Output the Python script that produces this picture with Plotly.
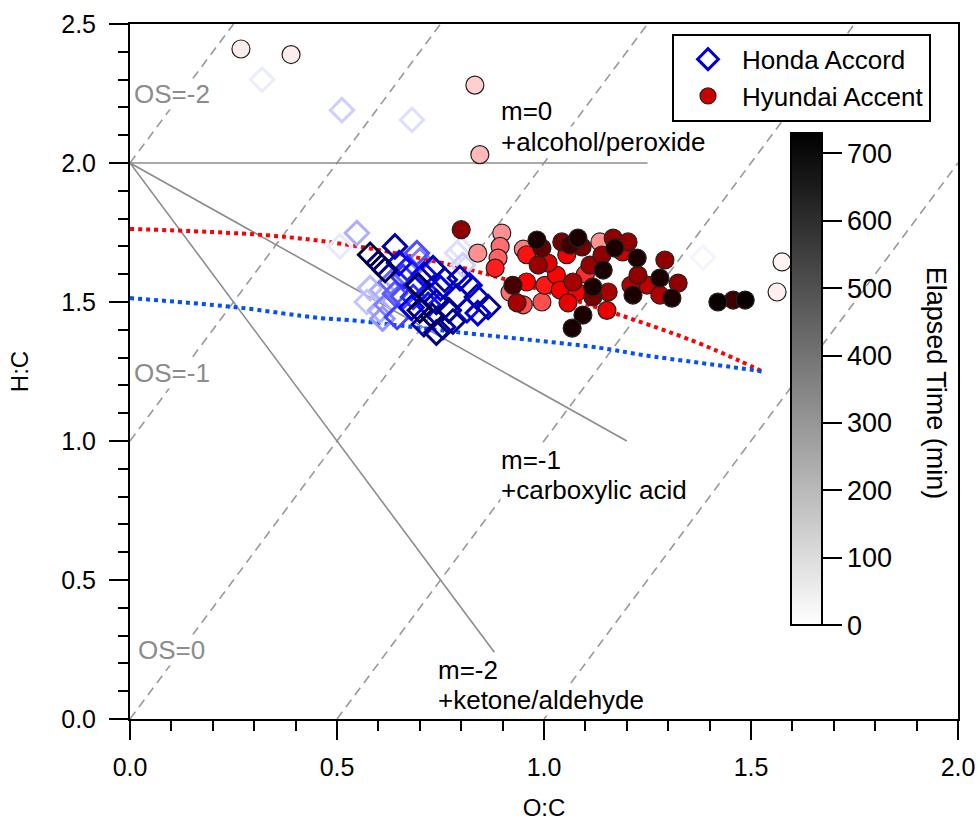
import plotly.graph_objects as go

# ---------------- data ----------------
# Honda Accord (O:C, H:C, elapsed time in min)
honda_oc = [0.319, 0.512, 0.681, 1.384, 0.80, 0.507, 0.548,
            0.58, 0.64, 0.616, 0.693, 0.609, 0.572, 0.696, 0.732, 0.66, 0.79,
            0.804, 0.797, 0.70, 0.74, 0.645, 0.756, 0.838, 0.865, 0.814, 0.684,
            0.604, 0.63, 0.67, 0.71, 0.72, 0.68, 0.75, 0.77, 0.79, 0.73, 0.66,
            0.62, 0.71, 0.76, 0.82, 0.70, 0.65, 0.78, 0.60, 0.74, 0.84, 0.69,
            0.72, 0.64, 0.58, 0.61]
honda_hc = [2.30, 2.19, 2.155, 1.66, 1.69, 1.70, 1.748,
            1.67, 1.70, 1.615, 1.676, 1.543, 1.50, 1.56, 1.622, 1.59, 1.676,
            1.633, 1.586, 1.47, 1.50, 1.446, 1.41, 1.518, 1.482, 1.471, 1.518,
            1.47, 1.57, 1.62, 1.60, 1.53, 1.48, 1.55, 1.47, 1.52, 1.45, 1.52,
            1.49, 1.42, 1.58, 1.56, 1.65, 1.64, 1.43, 1.64, 1.39, 1.46, 1.56,
            1.49, 1.53, 1.55, 1.44]
honda_t = [20, 80, 50, 5, 40, 30, 150,
           700, 620, 700, 350, 150, 100, 700, 600, 400, 50,
           80, 580, 700, 620, 380, 620, 600, 620, 500, 420,
           150, 300, 450, 500, 450, 550, 520, 650, 580, 680, 350,
           250, 600, 600, 550, 250, 500, 640, 650, 660, 560, 450,
           480, 320, 120, 200]

# Hyundai Accent (O:C, H:C, elapsed time in min)
hyundai_oc = [0.268, 0.389, 0.833, 0.845, 1.575, 1.563,
              0.80, 0.84, 0.898, 0.894, 0.889, 0.882, 0.95, 0.958, 0.983, 0.995,
              0.986, 0.958, 0.925, 0.918, 0.935, 0.95, 1.002, 0.995, 1.03, 1.039,
              1.043, 1.063, 1.055, 1.058, 1.07, 1.08, 1.082, 1.092, 1.094, 1.068,
              1.111, 1.118, 1.118, 1.135, 1.14, 1.143, 1.152, 1.155, 1.167, 1.171,
              1.203, 1.225, 1.292, 1.227, 1.28, 1.324, 1.249, 1.215, 1.28, 1.309,
              1.42, 1.457, 1.486, 1.01, 1.10, 1.19, 1.21]
hyundai_hc = [2.41, 2.39, 2.28, 2.03, 1.644, 1.536,
              1.76, 1.676, 1.748, 1.70, 1.658, 1.622, 1.69, 1.67, 1.723, 1.694,
              1.633, 1.572, 1.56, 1.535, 1.497, 1.49, 1.56, 1.50, 1.597, 1.543,
              1.716, 1.705, 1.67, 1.497, 1.572, 1.536, 1.73, 1.698, 1.453, 1.406,
              1.633, 1.554, 1.518, 1.716, 1.669, 1.615, 1.47, 1.536, 1.73, 1.694,
              1.716, 1.658, 1.651, 1.597, 1.586, 1.568, 1.561, 1.525, 1.525, 1.514,
              1.50, 1.507, 1.507, 1.64, 1.60, 1.68, 1.56]
hyundai_t = [15, 15, 60, 90, 5, 10,
             560, 150, 150, 200, 220, 320, 180, 340, 700, 620,
             540, 360, 650, 200, 520, 250, 330, 250, 360, 380,
             600, 660, 380, 400, 520, 380, 700, 600, 700, 700,
             550, 700, 600, 150, 560, 700, 400, 520, 560, 700,
             560, 700, 560, 560, 700, 560, 480, 700, 500, 700,
             720, 660, 720, 420, 300, 450, 500]

# fitted curves
red_fit_oc = [0.0, 0.33, 0.53, 0.74, 0.85, 1.0, 1.18, 1.36, 1.47, 1.53]
red_fit_hc = [1.763, 1.74, 1.705, 1.645, 1.605, 1.54, 1.455, 1.36, 1.29, 1.248]
blue_fit_oc = [0.0, 0.25, 0.46, 0.53, 0.80, 1.135, 1.24, 1.505, 1.53]
blue_fit_hc = [1.514, 1.482, 1.442, 1.435, 1.39, 1.335, 1.309, 1.255, 1.248]

# oxidation state reference lines: H:C = 2*O:C - OS
os_values = [-2, -1, 0, 1, 2]
# slope lines from (0, 2)
m_lines = [("m=0", 1.25, 2.0), ("m=-1", 1.2, 1.0), ("m=-2", 0.88, 0.24)]

time_max = 730
FONT = "Arial, Liberation Sans, sans-serif"

honda_scale = [[0, "rgb(246,246,255)"], [0.7, "rgb(0,0,255)"],
               [0.92, "rgb(0,0,120)"], [1, "rgb(0,0,20)"]]
hyundai_scale = [[0, "rgb(255,246,246)"], [0.5, "rgb(255,0,0)"],
                 [0.8, "rgb(130,0,0)"], [1, "rgb(0,0,0)"]]

fig = go.Figure()

# OS dashed lines
for os_v in os_values:
    x0 = max(0.0, os_v / 2)
    x1 = min(2.0, (2.5 + os_v) / 2)
    fig.add_trace(go.Scatter(x=[x0, x1], y=[2 * x0 - os_v, 2 * x1 - os_v],
                             mode="lines", showlegend=False, hoverinfo="skip",
                             line=dict(color="#999999", width=1.6, dash="9px,6px")))

# slope lines
for name, xe, ye in m_lines:
    fig.add_trace(go.Scatter(x=[0, xe], y=[2.0, ye], mode="lines", showlegend=False,
                             hoverinfo="skip",
                             line=dict(color="#8c8c8c", width=1.6)))

# fits
fig.add_trace(go.Scatter(x=red_fit_oc, y=red_fit_hc, mode="lines", showlegend=False,
                         line=dict(color="#ff0000", width=4, dash="4px,4px", shape="spline")))
fig.add_trace(go.Scatter(x=blue_fit_oc, y=blue_fit_hc, mode="lines", showlegend=False,
                         line=dict(color="#0050ff", width=4, dash="4px,4px", shape="spline")))

# Honda (open diamonds)
order_h = sorted(range(len(honda_t)), key=lambda i: honda_t[i])
fig.add_trace(go.Scatter(
    x=[honda_oc[i] for i in order_h], y=[honda_hc[i] for i in order_h],
    mode="markers", showlegend=False,
    marker=dict(symbol="diamond-open", size=18,
                color=[honda_t[i] for i in order_h], colorscale=honda_scale,
                cmin=0, cmax=time_max, line=dict(width=3))))

# Hyundai (circles)
order_y = sorted(range(len(hyundai_t)), key=lambda i: hyundai_t[i])
fig.add_trace(go.Scatter(
    x=[hyundai_oc[i] for i in order_y], y=[hyundai_hc[i] for i in order_y],
    mode="markers", showlegend=False,
    marker=dict(symbol="circle", size=18,
                color=[hyundai_t[i] for i in order_y], colorscale=hyundai_scale,
                cmin=0, cmax=time_max, line=dict(color="#222222", width=1.2))))

# legend entries
fig.add_trace(go.Scatter(x=[None], y=[None], mode="markers", name="Honda Accord",
                         marker=dict(symbol="diamond-open", size=19, color="#0000dd",
                                     line=dict(width=3))))
fig.add_trace(go.Scatter(x=[None], y=[None], mode="markers", name="Hyundai Accent",
                         marker=dict(symbol="circle", size=19, color="#cc0000",
                                     line=dict(color="#222222", width=1.2))))

# colorbar (grayscale elapsed time)
cbar = dict(x=0.7983, xanchor="left", y=0.489, yanchor="middle",
            len=492, lenmode="pixels", thickness=31,
            outlinewidth=2, outlinecolor="black",
            ticks="outside", ticklen=19, tickwidth=2,
            tickcolor="black", tickvals=[0, 100, 200, 300, 400, 500, 600, 700],
            tickfont=dict(size=27, color="black", family=FONT),
            bgcolor="rgba(0,0,0,0)", xpad=0, ypad=0)
fig.add_trace(go.Scatter(
    x=[None], y=[None], mode="markers", showlegend=False,
    marker=dict(color=[0], cmin=0, cmax=time_max, showscale=True,
                colorscale=[[0, "white"], [1, "black"]], colorbar=cbar)))

# colorbar title
fig.add_annotation(xref="paper", yref="paper", x=0.973, y=0.483,
                   text="Elapsed Time (min)", textangle=90, showarrow=False,
                   xanchor="center", yanchor="middle",
                   font=dict(size=27, color="black", family=FONT))

# annotations (one per text line)
texts = [
    ("m=0", 0.894, 2.187, "black"),
    ("+alcohol/peroxide", 0.894, 2.075, "black"),
    ("m=-1", 0.894, 0.932, "black"),
    ("+carboxylic acid", 0.894, 0.824, "black"),
    ("m=-2", 0.742, 0.176, "black"),
    ("+ketone/aldehyde", 0.742, 0.068, "black"),
    ("OS=-2", 0.007, 2.248, "#8c8c8c"),
    ("OS=-1", 0.007, 1.245, "#8c8c8c"),
    ("OS=0", 0.017, 0.248, "#8c8c8c"),
]
for t, x, y, c in texts:
    fig.add_annotation(x=x, y=y, text=t, showarrow=False, xanchor="left",
                       yanchor="middle", align="left", bgcolor="white", borderpad=0,
                       font=dict(size=26, color=c, family=FONT))

axis_common = dict(showgrid=False, zeroline=False, showline=True, linecolor="black",
                   linewidth=2, mirror=True, ticks="outside", ticklen=19,
                   tickwidth=1.5, tickcolor="black",
                   tickfont=dict(size=25, color="black", family=FONT),
                   minor=dict(dtick=0.1, ticks="outside", ticklen=10, tickwidth=1.5,
                              tickcolor="black"))
fig.update_xaxes(range=[0, 2], dtick=0.5, tickformat=".1f", ticklabelstandoff=6,
                 title=dict(text="O:C", font=dict(size=24, color="black", family=FONT),
                            standoff=19),
                 **axis_common)
fig.update_yaxes(range=[0, 2.5], dtick=0.5, tickformat=".1f", ticklabelstandoff=8,
                 title=dict(text="H:C", font=dict(size=24, color="black", family=FONT),
                            standoff=26),
                 **axis_common)

fig.update_layout(
    width=977, height=825,
    margin=dict(l=130, r=19, t=24, b=106, autoexpand=False),
    paper_bgcolor="white", plot_bgcolor="white",
    font=dict(family=FONT, color="black"),
    legend=dict(x=0.6546, y=0.986, xanchor="left", yanchor="top",
                bgcolor="white", bordercolor="black", borderwidth=2,
                font=dict(size=26, color="black", family=FONT),
                itemwidth=58, tracegroupgap=0),
)

fig.write_html("out.html")
